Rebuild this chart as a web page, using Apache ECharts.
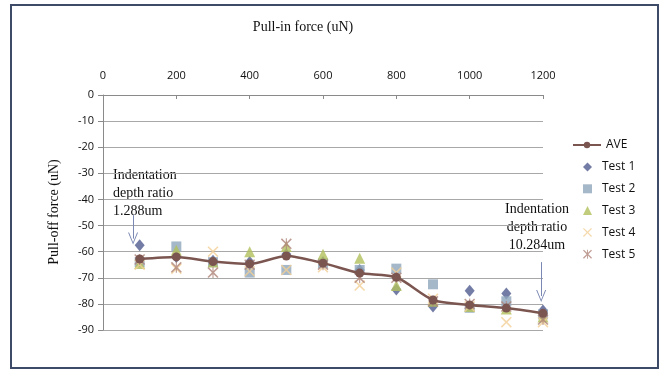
<!DOCTYPE html>
<html>
<head>
<meta charset="utf-8">
<script src="https://cdn.jsdelivr.net/npm/echarts@6/dist/echarts.min.js"></script>
<style>
  html, body { margin: 0; padding: 0; background: #fff; }
  #chart { width: 667px; height: 380px; }
</style>
</head>
<body>
<div id="chart"></div>
<script>
// pull-in force (uN)
const pullIn = [100, 200, 300, 400, 500, 600, 700, 800, 900, 1000, 1100, 1200];

// pull-off force (uN) per test
const ave   = [-62.8, -62.0, -63.8, -64.7, -61.7, -64.4, -68.2, -69.8, -78.5, -80.4, -81.6, -83.6];
const test1 = [-57.5, -62.0, -63.5, -64.0, -61.0, -64.0, -67.0, -74.5, -81.0, -75.0, -76.0, -82.5];
const test2 = [-64.0, -58.0, -64.0, -68.0, -67.0, -64.5, -67.0, -66.5, -72.5, -81.5, -79.0, -84.0];
const test3 = [-64.5, -59.5, -64.0, -60.0, -58.0, -61.0, -62.5, -73.0, -79.0, -81.0, -82.0, -85.0];
const test4 = [-65.0, -66.5, -60.0, -67.5, -67.0, -66.0, -73.0, -68.0, -78.0, -81.0, -87.0, -87.0];
const test5 = [-63.0, -66.0, -68.0, -65.0, -57.0, -65.0, -70.0, -70.0, -79.0, -80.0, -81.0, -86.0];

const testNames = ['Test 1', 'Test 2', 'Test 3', 'Test 4', 'Test 5'];

const pairs = ys => pullIn.map((x, i) => [x, ys[i]]);

const X_PATH = 'path://M0,1 L1,0 L5,4 L9,0 L10,1 L6,5 L10,9 L9,10 L5,6 L1,10 L0,9 L4,5 Z';
const STAR_PATH = 'path://M0,1 L1,0 L5,4 L9,0 L10,1 L6,5 L10,9 L9,10 L5,6 L1,10 L0,9 L4,5 Z M4.5,0 L5.5,0 L5.5,10 L4.5,10 Z';
const CHEVRON = 'path://M0,10 L5,0 L10,10 L9,10 L5,2 L1,10 Z';

const serif = '"Liberation Serif", "DejaVu Serif", serif';
const sans = '"Open Sans", "Liberation Sans", sans-serif';

const chart = echarts.init(document.getElementById('chart'));

const legendText = { fontFamily: sans, fontSize: 12, color: '#111', lineHeight: 14 };

const option = {
    animation: false,
    backgroundColor: '#fff',
    grid: { left: 103, right: 124, top: 95, bottom: 50 },
    xAxis: {
        type: 'value',
        position: 'top',
        min: 0,
        max: 1200,
        interval: 200,
        axisLine: { show: true, lineStyle: { color: '#8a8a8a' } },
        axisTick: { show: true, inside: true, length: 4, lineStyle: { color: '#8a8a8a' } },
        axisLabel: { color: '#111', fontFamily: sans, fontSize: 11, margin: 14, formatter: v => String(v) },
        splitLine: { show: false }
    },
    yAxis: {
        type: 'value',
        min: -90,
        max: 0,
        interval: 10,
        axisLine: { show: true, lineStyle: { color: '#8a8a8a' } },
        axisTick: { show: true, length: 5, lineStyle: { color: '#8a8a8a' } },
        axisLabel: { color: '#111', fontFamily: sans, fontSize: 11, margin: 9 },
        splitLine: { show: true, lineStyle: { color: '#a8a8a8', width: 1 } }
    },
    legend: [
        {
            orient: 'vertical',
            left: 572,
            top: 138,
            itemWidth: 28,
            itemHeight: 8,
            padding: 0,
            textStyle: legendText,
            data: ['AVE']
        },
        {
            orient: 'vertical',
            left: 583,
            top: 160,
            itemGap: 7.8,
            itemWidth: 9,
            itemHeight: 9,
            padding: 0,
            textStyle: Object.assign({ padding: [0, 0, 0, 5] }, legendText),
            data: testNames
        }
    ],
    graphic: [
        {
            type: 'rect',
            shape: { x: 11, y: 5, width: 647, height: 363 },
            style: { fill: 'none', stroke: '#3d4a68', lineWidth: 2 },
            silent: true
        },
        {
            type: 'text', x: 303, y: 20,
            style: { text: 'Pull-in force (uN)', font: '14px ' + serif, fill: '#111', textAlign: 'center' }
        },
        {
            type: 'text',
            x: 54, y: 212,
            rotation: Math.PI / 2,
            style: { text: 'Pull-off force (uN)', font: '14px ' + serif, fill: '#111', textAlign: 'center', textVerticalAlign: 'middle' }
        },
        {
            type: 'text', x: 113, y: 166,
            style: { text: 'Indentation\ndepth ratio\n1.288um', font: '14px ' + serif, fill: '#111', lineHeight: 18 }
        },
        {
            type: 'text', x: 537, y: 200,
            style: { text: 'Indentation\ndepth ratio\n10.284um', font: '14px ' + serif, fill: '#111', lineHeight: 18, textAlign: 'center' }
        }
    ],
    series: [
        {
            name: 'AVE',
            type: 'line',
            data: pairs(ave),
            smooth: 0.25,
            symbol: 'circle',
            symbolSize: 9,
            z: 5,
            lineStyle: { color: '#7b5550', width: 2.5 },
            itemStyle: { color: '#7b5550' }
        },
        {
            name: 'Test 1',
            type: 'scatter',
            data: pairs(test1),
            symbol: 'diamond',
            symbolSize: [10, 12],
            itemStyle: { color: '#4f5b8e' },
            markLine: {
                silent: true,
                symbol: ['none', CHEVRON],
                symbolSize: [10, 12],
                label: { show: false },
                lineStyle: { color: '#7a88b3', width: 1, type: 'solid' },
                data: [
                    [{ coord: [82, -46] }, { coord: [82, -55] }],
                    [{ coord: [1195, -64] }, { coord: [1195, -77] }]
                ]
            }
        },
        {
            name: 'Test 2',
            type: 'scatter',
            data: pairs(test2),
            symbol: 'rect',
            symbolSize: 10,
            itemStyle: { color: '#8fa6bc' }
        },
        {
            name: 'Test 3',
            type: 'scatter',
            data: pairs(test3),
            symbol: 'triangle',
            symbolSize: 11,
            itemStyle: { color: '#b2c05c' }
        },
        {
            name: 'Test 4',
            type: 'scatter',
            data: pairs(test4),
            symbol: X_PATH,
            symbolSize: 11,
            itemStyle: { color: '#f2cf96' }
        },
        {
            name: 'Test 5',
            type: 'scatter',
            data: pairs(test5),
            symbol: STAR_PATH,
            symbolSize: 11,
            itemStyle: { color: '#ae8378' }
        }
    ]
};

chart.setOption(option);

window.addEventListener('resize', () => {
    chart.resize();
});
</script>
</body>
</html>
